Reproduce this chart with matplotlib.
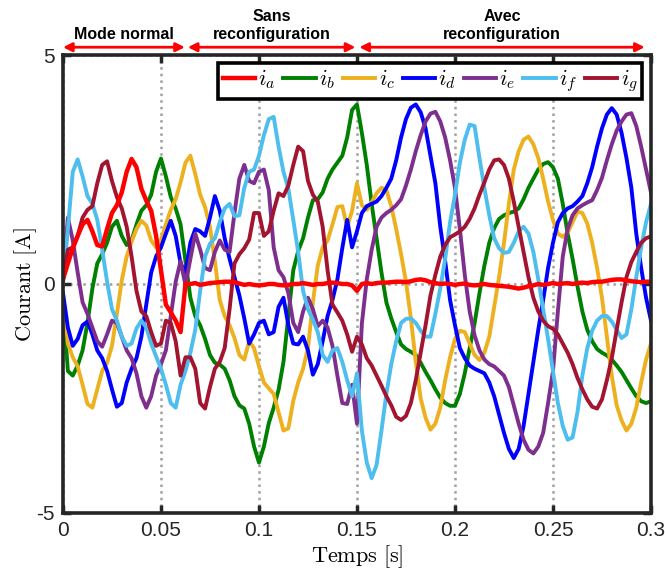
import numpy as np
import matplotlib
matplotlib.use("Agg")
import matplotlib.pyplot as plt

plt.rcParams["mathtext.fontset"] = "cm"
plt.rcParams["font.family"] = ["Liberation Sans", "DejaVu Sans"]

# Sampling instants (2.5 ms grid), currents
t = np.linspace(0, 0.3, 121)

i_a = [0.10, 0.45, 0.78, 1.05, 1.30, 1.40, 1.15, 0.85, 0.82, 1.20,
       1.55, 1.72, 2.00, 2.45, 2.73, 2.55, 2.08, 1.82, 1.60, 1.05,
       0.30, -0.45, -0.62, -0.80, -1.05, 0.00, 0.00, 0.02, -0.02, 0.00,
       0.02, 0.03, 0.04, 0.05, 0.05, 0.04, 0.01, -0.02, 0.00, -0.02,
       -0.03, -0.02, 0.00, 0.00, -0.02, -0.03, -0.02, 0.00, 0.00, 0.02,
       0.00, -0.02, 0.00, 0.00, 0.02, 0.03, 0.02, 0.00, 0.00, -0.03,
       -0.15, 0.00, 0.02, 0.00, 0.02, 0.03, 0.03, 0.04, 0.05, 0.05,
       0.04, 0.06, 0.09, 0.10, 0.08, 0.04, 0.02, 0.00, 0.01, 0.00,
       -0.02, 0.00, 0.01, -0.02, -0.03, -0.02, 0.00, -0.02, -0.03, -0.04,
       -0.05, -0.06, -0.08, -0.10, -0.08, -0.05, -0.03, 0.00, -0.02, 0.00,
       0.02, 0.00, 0.01, 0.02, 0.00, 0.02, 0.03, 0.02, 0.04, 0.05,
       0.05, 0.07, 0.09, 0.10, 0.10, 0.08, 0.06, 0.05, 0.04, 0.05,
       0.05]

i_b = [-0.40, -1.90, -2.00, -1.78, -1.45, -0.85, -0.10, 0.45, 0.65, 0.90,
       1.25, 1.38, 1.05, 0.85, 0.95, 1.30, 1.60, 1.72, 1.95, 2.45,
       2.74, 2.35, 1.90, 1.65, 1.30, 0.50, -0.30, -0.70, -0.90, -1.20,
       -1.55, -1.72, -1.76, -1.85, -2.10, -2.45, -2.65, -2.72, -3.05, -3.55,
       -3.90, -3.55, -3.04, -2.70, -2.31, -1.70, -0.70, 0.30, 0.72, 1.00,
       1.45, 1.83, 1.85, 2.00, 2.30, 2.50, 2.65, 2.80, 3.20, 3.80,
       3.92, 3.30, 2.60, 1.75, 1.00, 0.25, -0.40, -0.75, -1.05, -1.32,
       -1.42, -1.48, -1.55, -1.72, -1.92, -2.10, -2.30, -2.48, -2.60, -2.66,
       -2.66, -2.40, -1.95, -1.40, -0.86, -0.20, 0.40, 0.90, 1.22, 1.42,
       1.50, 1.55, 1.58, 1.65, 1.85, 2.10, 2.30, 2.50, 2.62, 2.66,
       2.55, 2.30, 1.75, 1.10, 0.55, -0.05, -0.60, -1.00, -1.25, -1.42,
       -1.50, -1.56, -1.65, -1.78, -1.92, -2.10, -2.28, -2.45, -2.56, -2.60,
       -2.56]

i_c = [-0.20, -1.30, -1.60, -1.80, -2.20, -2.62, -2.70, -2.30, -1.90, -1.72,
       -1.35, -0.65, 0.08, 0.60, 0.92, 1.20, 1.38, 1.28, 0.95, 0.80,
       0.96, 1.30, 1.62, 1.85, 2.22, 2.65, 2.80, 2.40, 1.95, 1.68,
       1.25, 0.50, -0.35, -0.70, -0.90, -1.18, -1.55, -1.65, -1.25, -1.40,
       -1.80, -2.15, -2.28, -2.40, -2.80, -3.20, -3.15, -2.55, -2.15, -1.85,
       -1.40, -0.40, 0.40, 0.80, 0.95, 1.30, 1.68, 1.70, 1.25, 1.60,
       2.20, 1.72, 1.62, 1.78, 1.98, 2.10, 2.05, 1.70, 1.20, 0.65,
       0.05, -0.75, -1.70, -2.50, -2.92, -3.18, -3.05, -2.70, -2.10, -1.60,
       -1.20, -1.02, -1.05, -1.30, -1.55, -1.66, -1.50, -1.15, -0.50, 0.15,
       0.90, 1.75, 2.50, 2.90, 3.15, 3.22, 3.05, 2.75, 2.30, 1.80,
       1.40, 1.10, 1.03, 1.12, 1.35, 1.58, 1.55, 1.32, 0.90, 0.35,
       -0.30, -1.15, -2.00, -2.65, -2.98, -3.20, -3.05, -2.70, -2.15, -1.65,
       -1.30]

i_d = [-0.20, -0.95, -1.35, -1.20, -0.90, -0.82, -1.10, -1.45, -1.62, -1.90,
       -2.30, -2.68, -2.60, -2.15, -1.85, -1.62, -1.15, -0.45, 0.25, 0.60,
       0.80, 1.10, 1.38, 1.05, 0.45, 0.25, 0.90, 1.20, 1.15, 1.05,
       1.45, 1.92, 1.60, 1.00, 0.55, 0.15, -0.25, -0.75, -1.30, -1.10,
       -0.85, -0.80, -1.10, -1.05, -0.50, -0.30, -0.90, -1.30, -1.32, -1.15,
       -1.45, -1.98, -1.75, -1.25, -0.70, -0.35, 0.10, 0.78, 1.40, 0.80,
       1.15, 1.55, 1.70, 1.75, 1.80, 1.92, 2.10, 2.30, 2.70, 3.20,
       3.60, 3.85, 3.92, 3.75, 3.40, 2.80, 2.20, 1.25, 0.50, -0.35,
       -0.90, -1.40, -1.62, -1.78, -1.85, -1.90, -1.95, -2.15, -2.45, -2.85,
       -3.25, -3.60, -3.80, -3.60, -3.10, -2.40, -1.70, -1.00, -0.35, 0.35,
       0.90, 1.35, 1.55, 1.65, 1.70, 1.80, 1.92, 2.20, 2.55, 3.00,
       3.40, 3.70, 3.84, 3.70, 3.30, 2.75, 2.10, 1.10, 0.35, -0.30,
       -0.80]

i_e = [0.10, 1.45, 0.95, 0.25, -0.40, -0.65, -0.95, -1.25, -1.37, -1.10,
       -0.80, -0.85, -1.15, -1.45, -1.62, -1.95, -2.45, -2.70, -2.45, -2.00,
       -1.75, -1.45, -0.70, 0.05, 0.50, -0.02, 0.55, 1.10, 0.75, 0.35,
       0.30, 0.70, 0.95, 0.75, 0.70, 1.55, 2.30, 2.60, 2.25, 2.20,
       2.45, 2.50, 2.05, 0.80, 0.30, 0.15, -0.20, -0.85, -1.05, -0.60,
       -0.30, -0.55, -0.92, -0.80, -0.95, -1.35, -2.00, -2.60, -2.62, -2.20,
       -3.05, -0.86, 0.10, 0.75, 1.25, 1.45, 1.55, 1.62, 1.72, 1.85,
       2.15, 2.50, 2.90, 3.25, 3.55, 3.72, 3.76, 3.55, 3.20, 2.70,
       2.10, 1.20, 0.20, -0.60, -1.12, -1.45, -1.65, -1.75, -1.80, -1.90,
       -2.00, -2.25, -2.65, -3.05, -3.40, -3.62, -3.70, -3.55, -3.25, -2.60,
       -1.90, -0.60, 0.60, 1.20, 1.50, 1.65, 1.72, 1.78, 1.83, 2.05,
       2.32, 2.70, 3.05, 3.35, 3.55, 3.70, 3.73, 3.45, 3.00, 2.50,
       2.00]

i_f = [0.00, 1.20, 2.45, 2.72, 2.35, 1.92, 1.75, 1.40, 0.75, 0.05,
       -0.55, -0.80, -1.15, -1.35, -1.30, -0.97, -0.80, -0.95, -1.30, -1.58,
       -1.85, -2.20, -2.60, -2.70, -2.20, -1.90, -1.50, -1.00, -0.15, 0.60,
       0.88, 1.00, 1.35, 1.65, 1.75, 1.48, 1.50, 2.10, 2.45, 2.50,
       2.80, 3.25, 3.60, 3.65, 3.00, 2.45, 2.08, 1.40, 0.70, -0.15,
       -0.55, -0.78, -1.05, -1.55, -1.70, -1.45, -1.40, -1.70, -2.10, -2.45,
       -1.95, -3.20, -3.90, -4.24, -3.95, -3.20, -2.40, -1.75, -1.25, -0.85,
       -0.76, -0.75, -0.85, -1.02, -1.15, -1.15, -0.65, -0.10, 0.55, 1.35,
       1.95, 2.65, 3.15, 3.48, 3.45, 2.75, 2.10, 1.50, 1.00, 0.78,
       0.68, 0.70, 0.90, 1.15, 1.25, 1.10, 0.70, 0.10, -0.55, -1.20,
       -1.90, -2.60, -3.10, -3.40, -3.35, -2.80, -2.00, -1.40, -1.02, -0.80,
       -0.70, -0.70, -0.82, -1.00, -1.18, -1.10, -0.55, 0.15, 0.80, 1.35,
       1.75]

i_g = [0.10, 0.75, 0.80, 1.05, 1.45, 1.62, 1.70, 2.20, 2.60, 2.68,
       2.25, 1.90, 1.65, 1.25, 0.60, -0.15, -0.60, -0.70, -1.05, -1.35,
       -1.30, -0.80, -0.85, -1.25, -2.00, -1.60, -1.60, -1.85, -2.60, -2.72,
       -2.25, -1.85, -1.70, -1.40, -0.55, 0.45, 0.65, 0.78, 0.97, 1.55,
       1.55, 1.05, 1.15, 1.60, 1.98, 1.92, 2.15, 2.60, 3.00, 2.90,
       2.25, 1.95, 1.80, 1.25, 0.30, -0.45, -0.62, -0.80, -1.10, -1.48,
       -1.15, -1.32, -1.62, -1.78, -2.00, -2.22, -2.45, -2.65, -2.90, -2.97,
       -2.88, -2.60, -2.10, -1.50, -0.90, -0.25, 0.20, 0.60, 0.85, 1.02,
       1.08, 1.15, 1.25, 1.42, 1.65, 1.95, 2.22, 2.50, 2.70, 2.72,
       2.60, 2.30, 1.80, 1.25, 0.70, 0.15, -0.30, -0.60, -0.80, -0.92,
       -0.98, -1.10, -1.30, -1.50, -1.75, -2.05, -2.30, -2.52, -2.68, -2.72,
       -2.52, -2.10, -1.62, -1.00, -0.40, 0.15, 0.48, 0.70, 0.90, 1.00,
       1.04]

series = [i_a, i_b, i_c, i_d, i_e, i_f, i_g]
labels = [r"$i_a$", r"$i_b$", r"$i_c$", r"$i_d$", r"$i_e$", r"$i_f$", r"$i_g$"]
colors = ["#FF0000", "#008000", "#EDB120", "#0000FF", "#7E2F8E", "#4DBEEE", "#A2142F"]

# operating modes shown above the plot
mode_names = ["Mode normal", "Sans\nreconfiguration", "Avec\nreconfiguration"]
mode_spans = [(0.0, 0.0622), (0.0637, 0.1492), (0.1512, 0.2968)]

fig = plt.figure(figsize=(6.65, 5.76), dpi=100)
ax = fig.add_axes([0.0947, 0.1094, 0.8842, 0.7951])

for k, (y, lab, col) in enumerate(zip(series, labels, colors)):
    lw = 3.2 if k == 0 else 2.8
    z = 4 if k == 0 else 3
    ax.plot(t, y, color=col, lw=lw, label=lab, zorder=z)

ax.set_xlim(0, 0.3)
ax.set_ylim(-5, 5)
ax.set_xticks([0, 0.05, 0.1, 0.15, 0.2, 0.25, 0.3])
ax.set_xticklabels(["0", "0.05", "0.1", "0.15", "0.2", "0.25", "0.3"])
ax.set_yticks([-5, 0, 5])
ax.set_yticklabels(["-5", "0", "5"])
ax.grid(True, color="#a0a0a0", linestyle=":", linewidth=1.8, zorder=1)
ax.set_axisbelow(True)
ax.tick_params(direction="in", length=6, width=2.5, top=True, right=True,
               labelsize=15, labelcolor="#262626", color="#262626", pad=6)
for sp in ax.spines.values():
    sp.set_linewidth(2.6)
    sp.set_color("#262626")
    sp.set_zorder(6)

ax.set_xlabel(r"$\mathrm{Temps\ [s]}$", fontsize=16, labelpad=2)
ax.set_ylabel(r"$\mathrm{Courant\ [A]}$", fontsize=16, labelpad=-2)

leg = ax.legend(ncol=7, loc="upper right", bbox_to_anchor=(0.985, 0.983),
                borderaxespad=0, fontsize=16, handlelength=1.45, handletextpad=0.15,
                columnspacing=0.35, fancybox=False, edgecolor="black",
                framealpha=1, borderpad=0.2)
leg.get_frame().set_linewidth(2.6)
leg.set_zorder(7)

for name, (x0, x1) in zip(mode_names, mode_spans):
    ax.annotate("", xy=(x0, 5.17), xytext=(x1, 5.17),
                arrowprops=dict(arrowstyle="<|-|>", color="red", lw=2,
                                mutation_scale=13, shrinkA=0, shrinkB=0),
                annotation_clip=False)
    ax.text((x0 + x1) / 2, 5.28, name, ha="center", va="bottom",
            fontsize=11.5, fontweight="bold", linespacing=1.25, clip_on=False)

fig.savefig("out.png", dpi=100)
